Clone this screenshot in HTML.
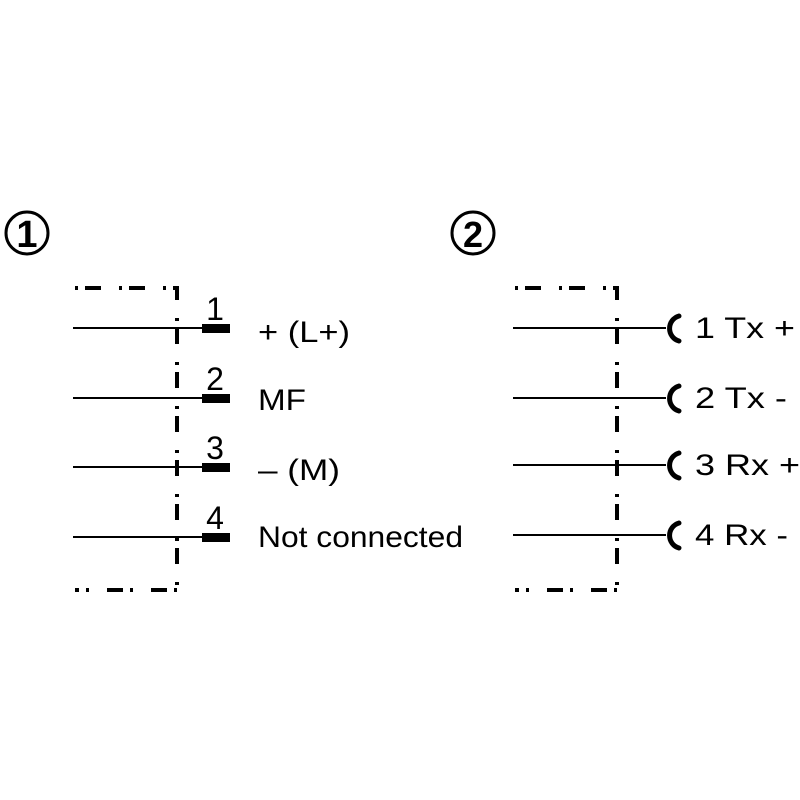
<!DOCTYPE html>
<html><head><style>body{margin:0;background:#fff}svg{display:block}</style></head><body>
<svg width="800" height="800" xmlns="http://www.w3.org/2000/svg" font-family="Liberation Sans, sans-serif">
<rect width="800" height="800" fill="#fff"/>
<g fill="none" stroke="#000" stroke-width="3">
<circle cx="27" cy="233" r="21"/>
<circle cx="473" cy="233" r="21"/>
</g>
<text x="27" y="247" font-size="38" font-weight="bold" text-anchor="middle">1</text>
<text x="473" y="247" font-size="36" font-weight="bold" text-anchor="middle">2</text>
<g stroke="#000" stroke-width="4" fill="none" stroke-dasharray="3 7 16 18">
<path d="M75 288 H177 V590"/>
<path d="M515 288 H617 V590"/>
<path d="M177 590 H75" stroke-dasharray="3 7 16 18" stroke-dashoffset="0"/>
<path d="M617 590 H515"/>
</g>
<g stroke="#000" stroke-width="2">
<line x1="73" y1="328" x2="205" y2="328"/><line x1="73" y1="398" x2="205" y2="398"/>
<line x1="73" y1="467" x2="205" y2="467"/><line x1="73" y1="537" x2="205" y2="537"/>
<line x1="513" y1="328" x2="666" y2="328"/><line x1="513" y1="398" x2="666" y2="398"/>
<line x1="513" y1="465" x2="666" y2="465"/><line x1="513" y1="535" x2="666" y2="535"/>
</g>
<g fill="#000">
<rect x="202" y="324" width="28" height="9"/><rect x="202" y="394" width="28" height="9"/>
<rect x="202" y="463" width="28" height="9"/><rect x="202" y="533" width="28" height="9"/>
</g>
<g stroke="#000" stroke-width="5" fill="none" stroke-linecap="round">
<path d="M679 316 A13 13 0 0 0 679 341"/>
<path d="M679 386 A13 13 0 0 0 679 411"/>
<path d="M679 453 A13 13 0 0 0 679 478"/>
<path d="M679 523 A13 13 0 0 0 679 548"/>
</g>
<g font-size="32" fill="#000">
<text x="215" y="320" text-anchor="middle">1</text>
<text x="215" y="390" text-anchor="middle">2</text>
<text x="215" y="459" text-anchor="middle">3</text>
<text x="215" y="529" text-anchor="middle">4</text>
</g>
<g font-size="30" fill="#000">
<text x="258" y="342" textLength="92" lengthAdjust="spacingAndGlyphs">+ (L+)</text>
<text x="258" y="410" textLength="48" lengthAdjust="spacingAndGlyphs">MF</text>
<text x="258" y="480" textLength="82" lengthAdjust="spacingAndGlyphs">– (M)</text>
<text x="258" y="547" textLength="205" lengthAdjust="spacingAndGlyphs">Not connected</text>
<text x="695" y="338" textLength="100" lengthAdjust="spacingAndGlyphs">1 Tx +</text>
<text x="695" y="408" textLength="92" lengthAdjust="spacingAndGlyphs">2 Tx -</text>
<text x="695" y="475" textLength="105" lengthAdjust="spacingAndGlyphs">3 Rx +</text>
<text x="695" y="545" textLength="93" lengthAdjust="spacingAndGlyphs">4 Rx -</text>
</g>
</svg>
</body></html>
